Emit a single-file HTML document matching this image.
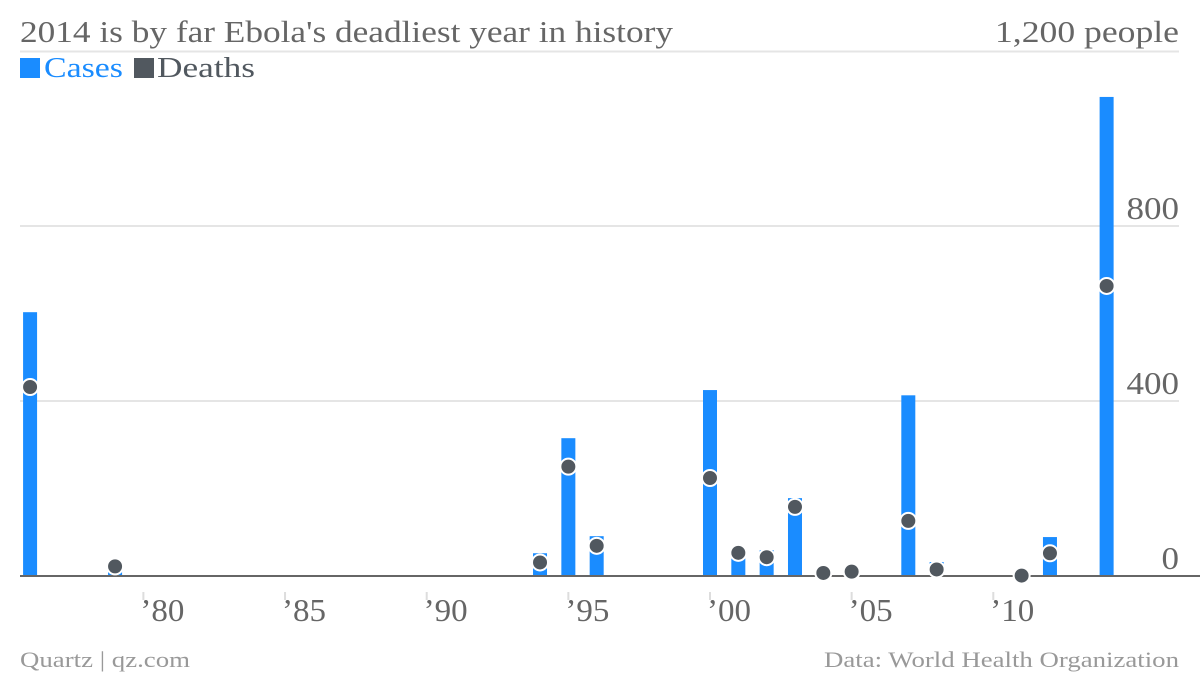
<!DOCTYPE html>
<html><head><meta charset="utf-8"><style>
body{margin:0;background:#fff;width:1200px;height:676px;overflow:hidden}
svg{display:block}
text{font-family:"Liberation Serif",serif}
</style></head><body>
<svg id="chart" width="1200" height="676">
<text x="20" y="42" font-size="31" fill="#666" textLength="653" lengthAdjust="spacingAndGlyphs">2014 is by far Ebola's deadliest year in history</text>
<text x="1179" y="42" font-size="31" fill="#666" text-anchor="end" textLength="184" lengthAdjust="spacingAndGlyphs">1,200 people</text>
<g>
<rect x="20" y="58" width="20" height="20" fill="#1a8cff"/>
<text x="44" y="77" font-size="29" fill="#1a8cff" textLength="79" lengthAdjust="spacingAndGlyphs">Cases</text>
<rect x="134" y="58" width="20" height="20" fill="#51585f"/>
<text x="157" y="77" font-size="29" fill="#51585f" textLength="98" lengthAdjust="spacingAndGlyphs">Deaths</text>
</g>
<g id="grid"></g><g id="bars"></g><g id="dots"></g>
<text x="20" y="667" font-size="22" fill="#999" textLength="170" lengthAdjust="spacingAndGlyphs">Quartz | qz.com</text>
<text x="1179" y="667" font-size="22" fill="#999" text-anchor="end" textLength="355" lengthAdjust="spacingAndGlyphs">Data: World Health Organization</text>
</svg>
<script>
const years=[1976,1979,1994,1995,1996,2000,2001,2002,2003,2004,2005,2007,2008,2011,2012,2014];
const cases=[603,34,52,315,91,425,48,59,178,17,12,413,32,1,89,1095];
const deaths=[432,22,31,250,69,224,53,43,158,7,10,126,15,1,52,663];
const yTicks=[0,400,800];
const xTicks=[1980,1985,1990,1995,2000,2005,2010];
const xTickLabels=["’80","’85","’90","’95","’00","’05","’10"];
const NS="http://www.w3.org/2000/svg";
const X=y=>710+(y-2000)*28.33;
const Y=v=>576-v*0.4375;
function mk(tag,attrs,parent){const e=document.createElementNS(NS,tag);for(const k in attrs)e.setAttribute(k,attrs[k]);parent.appendChild(e);return e;}
const g=document.getElementById('grid'),b=document.getElementById('bars'),d=document.getElementById('dots');
mk('line',{x1:20,x2:1179,y1:Y(1200)+.5,y2:Y(1200)+.5,stroke:'#e5e5e5','stroke-width':2},g);
yTicks.forEach(t=>{
 if(t>0){const l=mk('line',{x1:20,x2:1179,y1:Y(t),y2:Y(t),stroke:'#e5e5e5','stroke-width':2},g);
 
 }
 const attrs={x:1179,y:Y(t)-7,'font-size':32,fill:'#666','text-anchor':'end',lengthAdjust:'spacingAndGlyphs'};
 attrs.textLength=String(t).length*17.5;
 const tx=mk('text',attrs,g);
 tx.textContent=t;
 
 
});
xTicks.forEach((t,i)=>{
 const l=mk('line',{x1:X(t),x2:X(t),y1:592,y2:600,stroke:'#ddd','stroke-width':2},g);
 
 
 const tx=mk('text',{x:X(t)-3,y:621,'font-size':32,fill:'#666',textLength:44,lengthAdjust:'spacingAndGlyphs'},g);
 tx.textContent=xTickLabels[i];
 
 
});
years.forEach((yr,i)=>{
 const r=mk('rect',{x:X(yr)-7,y:Y(cases[i]),width:14,height:576-Y(cases[i]),fill:'#1a8cff'},b);
 
 
});
mk('line',{x1:20,x2:1200,y1:576,y2:576,stroke:'#666','stroke-width':2},b);
years.forEach((yr,i)=>{
 const c=mk('circle',{cx:X(yr),cy:Y(deaths[i]),r:8,fill:'#51585f',stroke:'#fff','stroke-width':2},d);
 
 
});
</script>
</body></html>
